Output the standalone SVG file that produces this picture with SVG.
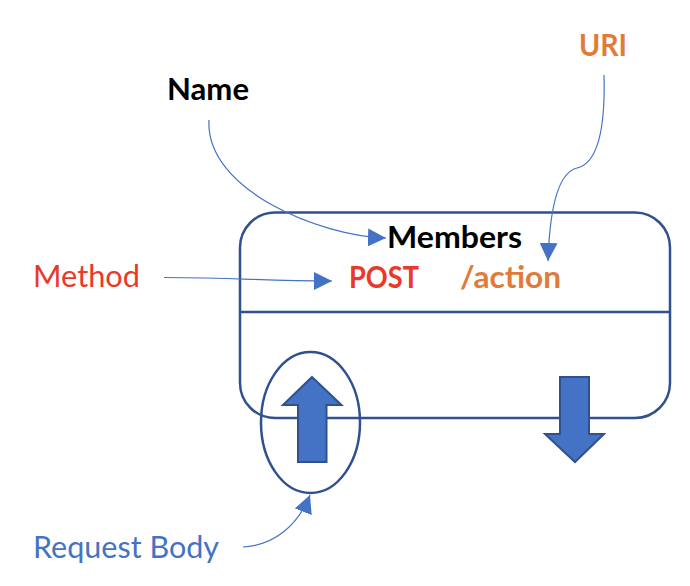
<svg xmlns="http://www.w3.org/2000/svg" width="690" height="586" viewBox="0 0 690 586">
<style>
.t{font-family:Lato,"Liberation Sans",sans-serif;font-size:30px}
.b{font-weight:bold}
.box{fill:none;stroke:#2F528F;stroke-width:2.5}
.arr{fill:#4472C4;stroke:#2F528F;stroke-width:2}
.con{fill:none;stroke:#4472C4;stroke-width:1.2}
</style>
<defs>
<marker id="ah" markerUnits="userSpaceOnUse" markerWidth="18" markerHeight="18" viewBox="0 0 16 16" refX="16" refY="8" orient="auto">
<path d="M0,0 L16,8 L0,16 Z" fill="#4472C4"/>
</marker>
</defs>
<rect width="690" height="586" fill="#fff"/>
<g id="members">
<rect class="box" x="240" y="212.5" width="430" height="205.5" rx="35" ry="35"/>
<line class="box" x1="240" y1="312" x2="670" y2="312"/>
<text class="t b" x="387" y="248" textLength="135" lengthAdjust="spacingAndGlyphs" fill="#000">Members</text>
<text class="t b" x="349" y="288" textLength="70" lengthAdjust="spacingAndGlyphs" fill="#E8392B">POST</text>
<text class="t b" x="460" y="288" textLength="101" lengthAdjust="spacingAndGlyphs" fill="#E07B39">/action</text>
</g>
<g id="request-body-ellipse">
<ellipse class="box" cx="310.5" cy="422.5" rx="49.5" ry="70.5"/>
</g>
<g id="up-arrow">
<path class="arr" d="M312,377 L341.5,405 L326.5,405 L326.5,462 L298,462 L298,405 L283,405 Z"/>
</g>
<g id="down-arrow">
<path class="arr" d="M560,377 L589,377 L589,434 L604,434 L575,462 L545,434 L560,434 Z"/>
</g>
<g id="labels">
<text class="t b" x="167" y="100" textLength="82" lengthAdjust="spacingAndGlyphs" fill="#000">Name</text>
<text class="t b" x="579" y="56" textLength="48" lengthAdjust="spacingAndGlyphs" fill="#E07B39">URI</text>
<text class="t" x="33" y="287" textLength="107" lengthAdjust="spacingAndGlyphs" fill="#E8392B">Method</text>
<text class="t" x="33" y="558" textLength="186" lengthAdjust="spacingAndGlyphs" fill="#4472C4">Request Body</text>
</g>
<g id="connectors">
<path class="con" d="M209,120 C205,190 320,236 386,238" marker-end="url(#ah)"/>
<path class="con" d="M164,277.5 C240,277.5 260,281 332,281" marker-end="url(#ah)"/>
<path class="con" d="M604,75 C606,150 590,165 577,168 C560,172 550,200 548,261" marker-end="url(#ah)"/>
<path class="con" d="M243,547 C275,545 298,525 310,495" marker-end="url(#ah)"/>
</g>
</svg>
